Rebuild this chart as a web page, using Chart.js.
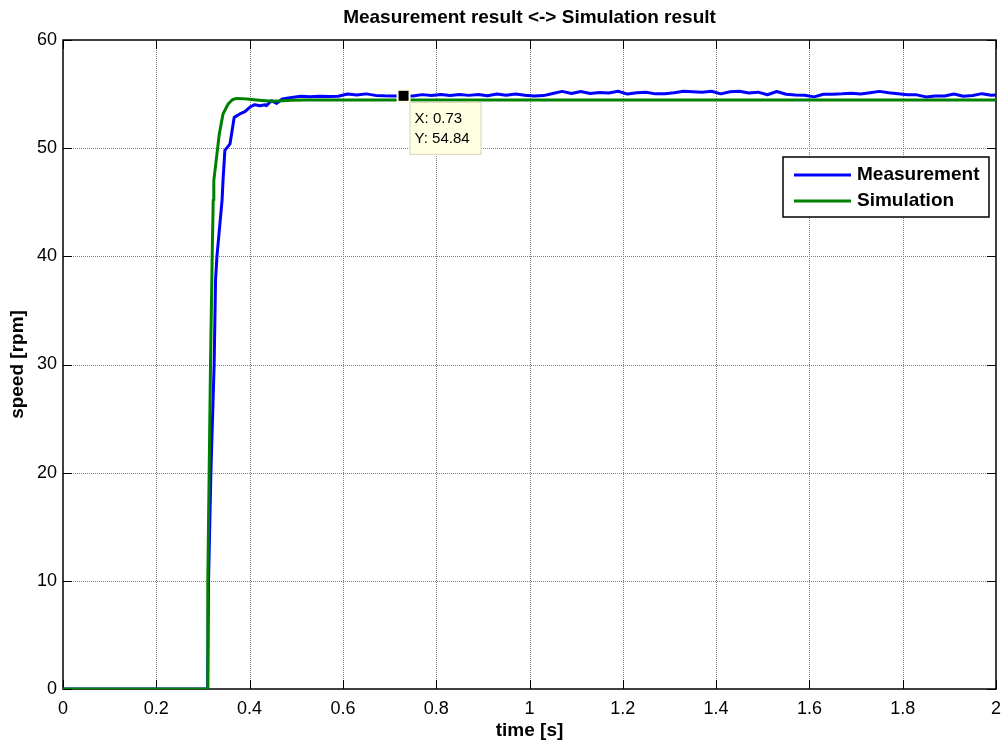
<!DOCTYPE html>
<html>
<head>
<meta charset="utf-8">
<script src="https://cdn.jsdelivr.net/npm/chart.js@4/dist/chart.umd.min.js"></script>
<style>
  html, body { margin: 0; padding: 0; background: #fff; }
  #wrap { width: 1003px; height: 743px; }
</style>
</head>
<body>
<div id="wrap"><canvas id="speedChart" width="1003" height="743"></canvas></div>
<script>
// measured speed: start-up edge sampled by hand, then a regular 20 ms grid
const measRiseTime = [0, 0.31, 0.312, 0.317, 0.324, 0.327, 0.330, 0.341, 0.343, 0.347, 0.358,
  0.367, 0.379, 0.390, 0.402, 0.411, 0.422, 0.433, 0.436, 0.447, 0.458];
const measRiseSpeed = [0, 0, 10, 20, 30, 37.8, 40, 45.2, 47, 49.8, 50.4,
  52.85, 53.16, 53.37, 53.83, 54.02, 53.93, 54.02, 53.93, 54.39, 54.14];

const measStart = 0.47;
const measStep = 0.02;
const measSpeed = [
  54.55, 54.68, 54.80, 54.76, 54.80, 54.77, 54.80, 55.00, 54.92, 55.02, // 0.47 .. 0.65
  54.88, 54.84, 54.82, 54.84, 54.82, 54.95, 54.86, 54.96, 54.86, 54.97, // 0.67 .. 0.85
  54.88, 54.96, 54.84, 55.00, 54.90, 55.00, 54.90,                      // 0.87 .. 0.99
  54.82, 54.86, 55.05, 55.25, 55.05, 55.24, 55.06, 55.15, 55.10, 55.26, // 1.01 .. 1.19
  55.00, 55.12, 55.16, 55.02, 55.04, 55.12, 55.26, 55.22, 55.16, 55.26, // 1.21 .. 1.39
  55.02, 55.22, 55.27, 55.10, 55.18, 54.94, 55.24, 54.98, 54.92, 54.90, // 1.41 .. 1.59
  54.74, 54.98, 54.98, 55.02, 55.08, 55.00, 55.12, 55.25, 55.12, 55.04, // 1.61 .. 1.79
  54.93, 54.93, 54.74, 54.82, 54.82, 55.00, 54.80, 54.87, 55.04, 54.90, // 1.81 .. 1.99
  54.93                                                                  // 2.01
];

// simulated speed
const simTime = [0, 0.3098, 0.3104, 0.3133, 0.3162, 0.3198, 0.322, 0.3233, 0.335, 0.343,
  0.354, 0.363, 0.372, 0.385, 0.40, 0.42, 0.45, 0.47, 0.49, 0.52, 2.0];
const simSpeed = [0, 0, 10, 20, 30, 40, 45.2, 47, 51.3, 53.16,
  54.08, 54.48, 54.6, 54.58, 54.52, 54.44, 54.34, 54.38, 54.44, 54.45, 54.45];

// axis ticks
const timeTicks = [0, 0.2, 0.4, 0.6, 0.8, 1, 1.2, 1.4, 1.6, 1.8, 2];
const speedTicks = [0, 10, 20, 30, 40, 50, 60];

// data tip on the measurement
const tipX = 0.73;
const tipY = 54.84;

const measPoints = measRiseTime.map((t, i) => ({ x: t, y: measRiseSpeed[i] }))
  .concat(measSpeed.map((v, i) => ({ x: +(measStart + i * measStep).toFixed(2), y: v })));
const simPoints = simTime.map((t, i) => ({ x: t, y: simSpeed[i] }));

const FONT = "'Liberation Sans', Arial, Helvetica, sans-serif";

// dotted grid, black box and inward tick marks (MATLAB look)
const boxPlugin = {
  id: 'box',
  beforeDatasetsDraw(chart) {
    const { ctx, chartArea: a, scales: { x, y } } = chart;
    ctx.save();
    ctx.lineWidth = 1;
    ctx.strokeStyle = '#808080';
    ctx.setLineDash([1, 1]);
    timeTicks.slice(1, -1).forEach((t) => {
      const px = Math.round(x.getPixelForValue(t)) + 0.5;
      ctx.beginPath(); ctx.moveTo(px, a.top); ctx.lineTo(px, a.bottom); ctx.stroke();
    });
    speedTicks.slice(1, -1).forEach((v) => {
      const py = Math.round(y.getPixelForValue(v)) + 0.5;
      ctx.beginPath(); ctx.moveTo(a.left, py); ctx.lineTo(a.right, py); ctx.stroke();
    });
    ctx.setLineDash([]);
    ctx.strokeStyle = '#000';
    ctx.lineWidth = 1.5;
    ctx.strokeRect(a.left, a.top, a.right - a.left, a.bottom - a.top);
    ctx.lineWidth = 1;
    const len = 9;
    timeTicks.forEach((t) => {
      const px = Math.round(x.getPixelForValue(t)) + 0.5;
      ctx.beginPath();
      ctx.moveTo(px, a.bottom); ctx.lineTo(px, a.bottom - len);
      ctx.moveTo(px, a.top); ctx.lineTo(px, a.top + len);
      ctx.stroke();
    });
    speedTicks.forEach((v) => {
      const py = Math.round(y.getPixelForValue(v)) + 0.5;
      ctx.beginPath();
      ctx.moveTo(a.left, py); ctx.lineTo(a.left + len, py);
      ctx.moveTo(a.right, py); ctx.lineTo(a.right - len, py);
      ctx.stroke();
    });
    ctx.restore();
  }
};

// legend box in the upper right of the axes
const legendPlugin = {
  id: 'boxLegend',
  afterDatasetsDraw(chart) {
    const { ctx, chartArea: a } = chart;
    const right = a.right - 7, top = a.top + 117, w = 206, h = 60;
    const left = right - w;
    ctx.save();
    ctx.fillStyle = '#fff';
    ctx.fillRect(left, top, w, h);
    ctx.strokeStyle = '#000';
    ctx.lineWidth = 1.5;
    ctx.strokeRect(left, top, w, h);
    ctx.font = 'bold 19px ' + FONT;
    ctx.textBaseline = 'middle';
    ctx.textAlign = 'left';
    chart.data.datasets.forEach((ds, i) => {
      const ly = top + 18 + i * 26;
      ctx.strokeStyle = ds.borderColor;
      ctx.lineWidth = 3;
      ctx.beginPath(); ctx.moveTo(left + 11, ly); ctx.lineTo(left + 68, ly); ctx.stroke();
      ctx.fillStyle = '#000';
      ctx.fillText(ds.label, left + 74, ly);
    });
    ctx.restore();
  }
};

// data tip marker with its X/Y readout
const tipPlugin = {
  id: 'dataTip',
  afterDatasetsDraw(chart) {
    const { ctx, scales: { x, y } } = chart;
    const px = x.getPixelForValue(tipX), py = y.getPixelForValue(tipY);
    ctx.save();
    ctx.fillStyle = '#ffffe1';
    ctx.fillRect(px - 7, py - 7, 14, 14);
    ctx.fillStyle = '#000';
    ctx.fillRect(px - 5, py - 5, 10, 10);
    ctx.fillStyle = '#ffffe1';
    ctx.strokeStyle = '#d6d6b4';
    ctx.lineWidth = 1;
    ctx.fillRect(px + 6, py + 6, 72, 53);
    ctx.strokeRect(px + 6.5, py + 6.5, 71, 52);
    ctx.fillStyle = '#000';
    ctx.font = '15px ' + FONT;
    ctx.textBaseline = 'middle';
    ctx.fillText('X: ' + tipX, px + 11, py + 23);
    ctx.fillText('Y: ' + tipY.toFixed(2), px + 11, py + 43);
    ctx.restore();
  }
};

new Chart(document.getElementById('speedChart'), {
  type: 'line',
  data: {
    datasets: [
      { label: 'Measurement', data: measPoints, borderColor: '#0000ff', borderWidth: 3, order: 1 },
      { label: 'Simulation', data: simPoints, borderColor: '#008000', borderWidth: 3, order: 0 }
    ]
  },
  options: {
    responsive: false,
    animation: false,
    devicePixelRatio: 1,
    layout: { padding: 0 },
    elements: { point: { radius: 0 }, line: { tension: 0, borderJoinStyle: 'round' } },
    plugins: {
      legend: { display: false },
      tooltip: { enabled: false },
      title: {
        display: true,
        text: 'Measurement result <-> Simulation result',
        color: '#000',
        font: { family: FONT, size: 19, weight: 'bold' },
        padding: { top: 6.6, bottom: 10.6 },
        fullSize: false
      }
    },
    scales: {
      x: {
        type: 'linear',
        min: 0,
        max: 2,
        afterFit(scale) {
          scale.height = 54;
          scale.paddingLeft = 0;
          scale.paddingRight = 7;
        },
        afterBuildTicks(scale) { scale.ticks = timeTicks.map((v) => ({ value: v })); },
        grid: { display: false, drawTicks: false },
        border: { display: false },
        ticks: {
          color: '#000',
          padding: 9,
          autoSkip: false,
          maxRotation: 0,
          font: { family: FONT, size: 18 },
          callback: (v) => String(+v.toFixed(1))
        },
        title: {
          display: true,
          text: 'time [s]',
          color: '#000',
          font: { family: FONT, size: 19, weight: 'bold' },
          padding: { top: 0, bottom: 0.6 }
        }
      },
      y: {
        min: 0,
        max: 60,
        afterFit(scale) { scale.width = 63; },
        afterBuildTicks(scale) { scale.ticks = speedTicks.map((v) => ({ value: v })); },
        grid: { display: false, drawTicks: false },
        border: { display: false },
        ticks: {
          color: '#000',
          padding: 6,
          autoSkip: false,
          font: { family: FONT, size: 18 }
        },
        title: {
          display: true,
          text: 'speed [rpm]',
          color: '#000',
          font: { family: FONT, size: 19, weight: 'bold' },
          padding: { top: 6.6, bottom: 0 }
        }
      }
    }
  },
  plugins: [boxPlugin, legendPlugin, tipPlugin]
});
</script>
</body>
</html>
